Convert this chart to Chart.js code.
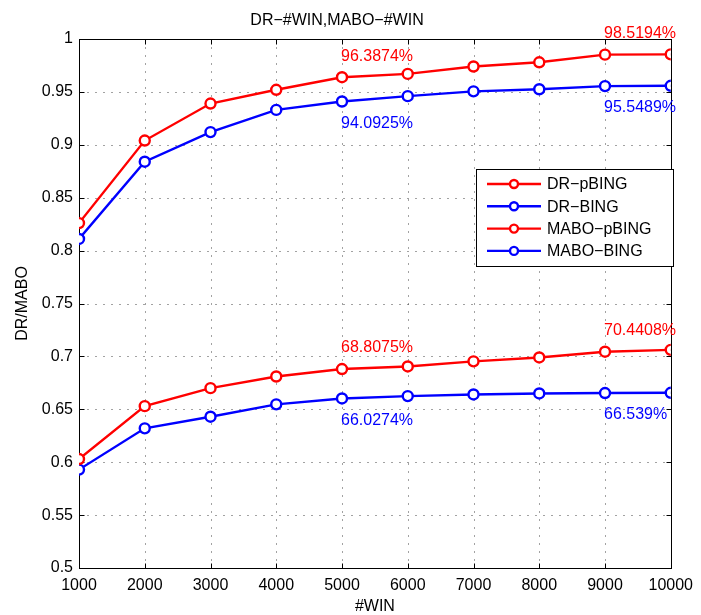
<!DOCTYPE html>
<html>
<head>
<meta charset="utf-8">
<title>DR-#WIN, MABO-#WIN</title>
<script src="https://cdn.jsdelivr.net/npm/chart.js@4/dist/chart.umd.min.js"></script>
<style>
  html, body { margin: 0; padding: 0; background: #fff; }
  #wrap { width: 701px; height: 615px; }
</style>
</head>
<body>
<div id="wrap"><canvas id="c" width="701" height="615"></canvas></div>
<script>
// Number of windows per image
const winCounts = [1000, 2000, 3000, 4000, 5000, 6000, 7000, 8000, 9000, 10000];

// Detection rate (DR) and mean average best overlap (MABO)
const drPBing   = [0.826, 0.904, 0.939, 0.952, 0.963874, 0.967, 0.974, 0.978, 0.985194, 0.9855];
const drBing    = [0.811, 0.884, 0.912, 0.933, 0.940925, 0.946, 0.9505, 0.9525, 0.955489, 0.9558];
const maboPBing = [0.603, 0.653, 0.670, 0.681, 0.688075, 0.6905, 0.6953, 0.699, 0.704408, 0.7062];
const maboBing  = [0.593, 0.632, 0.643, 0.6547, 0.660274, 0.6625, 0.664, 0.665, 0.66539, 0.6656];

const seriesNames = ['DR\u2212pBING', 'DR\u2212BING', 'MABO\u2212pBING', 'MABO\u2212BING'];
const seriesColors = ['#ff0000', '#0000ff', '#ff0000', '#0000ff'];
// indices of points annotated with their value, and on which side of the line
const annotatedIdx = [4, 8];
const annotateSide = ['above', 'below', 'above', 'below'];

const yTicks = [0.5, 0.55, 0.6, 0.65, 0.7, 0.75, 0.8, 0.85, 0.9, 0.95, 1];

const FONT = "'Liberation Sans', Arial, Helvetica, sans-serif";

const seriesValues = [drPBing, drBing, maboPBing, maboBing];

const datasets = seriesValues.map((vals, s) => ({
  label: seriesNames[s],
  data: vals.map((v, i) => ({ x: winCounts[i], y: v })),
  borderColor: seriesColors[s],
  backgroundColor: seriesColors[s],
  borderWidth: 2.4,
  pointRadius: 5,
  pointBorderWidth: 2.4,
  pointBorderColor: seriesColors[s],
  pointBackgroundColor: '#ffffff',
  tension: 0,
  fill: false
}));

function fmtPct(v) {
  return parseFloat((v * 100).toFixed(4)).toString() + '%';
}

// Dotted grid, axes box and inward tick marks on all four sides
const boxPlugin = {
  id: 'axesBox',
  beforeDatasetsDraw(chart) {
    const { ctx, chartArea: a, scales } = chart;
    const L = Math.round(a.left) + 0.5, R = Math.round(a.right) + 0.5;
    const T = Math.round(a.top) + 0.5, B = Math.round(a.bottom) + 0.5;
    ctx.save();
    // dotted grid
    ctx.strokeStyle = '#444';
    ctx.lineWidth = 1;
    ctx.setLineDash([1, 7]);
    ctx.beginPath();
    scales.x.ticks.forEach(t => {
      const px = Math.round(scales.x.getPixelForValue(t.value)) + 0.5;
      if (px <= L + 1 || px >= R - 1) return;
      ctx.moveTo(px, B); ctx.lineTo(px, T);
    });
    scales.y.ticks.forEach(t => {
      const py = Math.round(scales.y.getPixelForValue(t.value)) + 0.5;
      if (py <= T + 1 || py >= B - 1) return;
      ctx.moveTo(L, py); ctx.lineTo(R, py);
    });
    ctx.stroke();
    ctx.setLineDash([]);
    // box
    ctx.strokeStyle = '#000';
    ctx.lineWidth = 1;
    ctx.strokeRect(L, T, R - L, B - T);
    // inward ticks
    const tl = 5;
    ctx.beginPath();
    scales.x.ticks.forEach(t => {
      const px = Math.round(scales.x.getPixelForValue(t.value)) + 0.5;
      ctx.moveTo(px, B); ctx.lineTo(px, B - tl);
      ctx.moveTo(px, T); ctx.lineTo(px, T + tl);
    });
    scales.y.ticks.forEach(t => {
      const py = Math.round(scales.y.getPixelForValue(t.value)) + 0.5;
      ctx.moveTo(L, py); ctx.lineTo(L + tl, py);
      ctx.moveTo(R, py); ctx.lineTo(R - tl, py);
    });
    ctx.stroke();
    ctx.restore();
  }
};

// Value annotations next to selected points
const valueLabelPlugin = {
  id: 'valueLabels',
  afterDatasetsDraw(chart) {
    const { ctx } = chart;
    ctx.save();
    ctx.font = '16px ' + FONT;
    ctx.textAlign = 'left';
    ctx.textBaseline = 'middle';
    chart.data.datasets.forEach((ds, s) => {
      const meta = chart.getDatasetMeta(s);
      annotatedIdx.forEach(i => {
        const pt = meta.data[i];
        const dy = annotateSide[s] === 'above' ? -21 : 22;
        ctx.fillStyle = seriesColors[s];
        ctx.fillText(fmtPct(seriesValues[s][i]), pt.x - 1, pt.y + dy);
      });
    });
    ctx.restore();
  }
};

// Boxed legend inside the plot area
const boxLegendPlugin = {
  id: 'boxLegend',
  afterDraw(chart) {
    const { ctx } = chart;
    const x0 = 476, y0 = 169, w = 197, h = 97;
    ctx.save();
    ctx.fillStyle = '#fff';
    ctx.fillRect(x0, y0, w, h);
    ctx.strokeStyle = '#000';
    ctx.lineWidth = 1;
    ctx.strokeRect(x0 + 0.5, y0 + 0.5, w, h);
    ctx.font = '16px ' + FONT;
    ctx.textBaseline = 'middle';
    ctx.textAlign = 'left';
    chart.data.datasets.forEach((ds, s) => {
      const y = y0 + 15 + s * 22.3;
      ctx.strokeStyle = ds.borderColor;
      ctx.lineWidth = 2.4;
      ctx.beginPath();
      ctx.moveTo(x0 + 11, y);
      ctx.lineTo(x0 + 65, y);
      ctx.stroke();
      ctx.beginPath();
      ctx.arc(x0 + 38, y, 4, 0, Math.PI * 2);
      ctx.fillStyle = '#fff';
      ctx.fill();
      ctx.stroke();
      ctx.fillStyle = '#000';
      ctx.fillText(ds.label, x0 + 71, y + 1);
    });
    ctx.restore();
  }
};

new Chart(document.getElementById('c'), {
  type: 'line',
  data: { datasets },
  options: {
    responsive: false,
    devicePixelRatio: 1,
    animation: false,
    layout: { padding: { left: 0, right: 27, top: 0, bottom: 0 } },
    plugins: {
      legend: { display: false },
      tooltip: { enabled: false },
      title: {
        display: true,
        text: 'DR\u2212#WIN,MABO\u2212#WIN',
        color: '#000',
        font: { family: FONT, size: 16, weight: 'normal', lineHeight: 1.2 },
        padding: { top: 11, bottom: 8.8 }
      }
    },
    scales: {
      x: {
        type: 'linear',
        min: 1000,
        max: 10000,
        afterBuildTicks(scale) {
          scale.ticks = winCounts.map(v => ({ value: v }));
        },
        afterFit(scale) { scale.height = 47; },
        ticks: {
          color: '#000',
          font: { family: FONT, size: 16 },
          padding: 8,
          maxRotation: 0,
          autoSkip: false,
          callback: v => String(v)
        },
        grid: { display: false, drawTicks: false },
        border: { display: false },
        title: {
          display: true,
          text: '#WIN',
          color: '#000',
          font: { family: FONT, size: 16, lineHeight: 1 },
          padding: { top: 0, bottom: 0 }
        }
      },
      y: {
        min: 0.5,
        max: 1,
        afterBuildTicks(scale) {
          scale.ticks = yTicks.map(v => ({ value: v }));
        },
        afterFit(scale) { scale.width = 79; },
        ticks: {
          color: '#000',
          font: { family: FONT, size: 16 },
          padding: 6,
          autoSkip: false,
          callback: v => parseFloat(Number(v).toFixed(2)).toString()
        },
        grid: { display: false, drawTicks: false },
        border: { display: false },
        title: {
          display: true,
          text: 'DR/MABO',
          color: '#000',
          font: { family: FONT, size: 16, lineHeight: 1.2 },
          padding: { top: 13, bottom: 0 }
        }
      }
    }
  },
  plugins: [boxPlugin, valueLabelPlugin, boxLegendPlugin]
});
</script>
</body>
</html>
